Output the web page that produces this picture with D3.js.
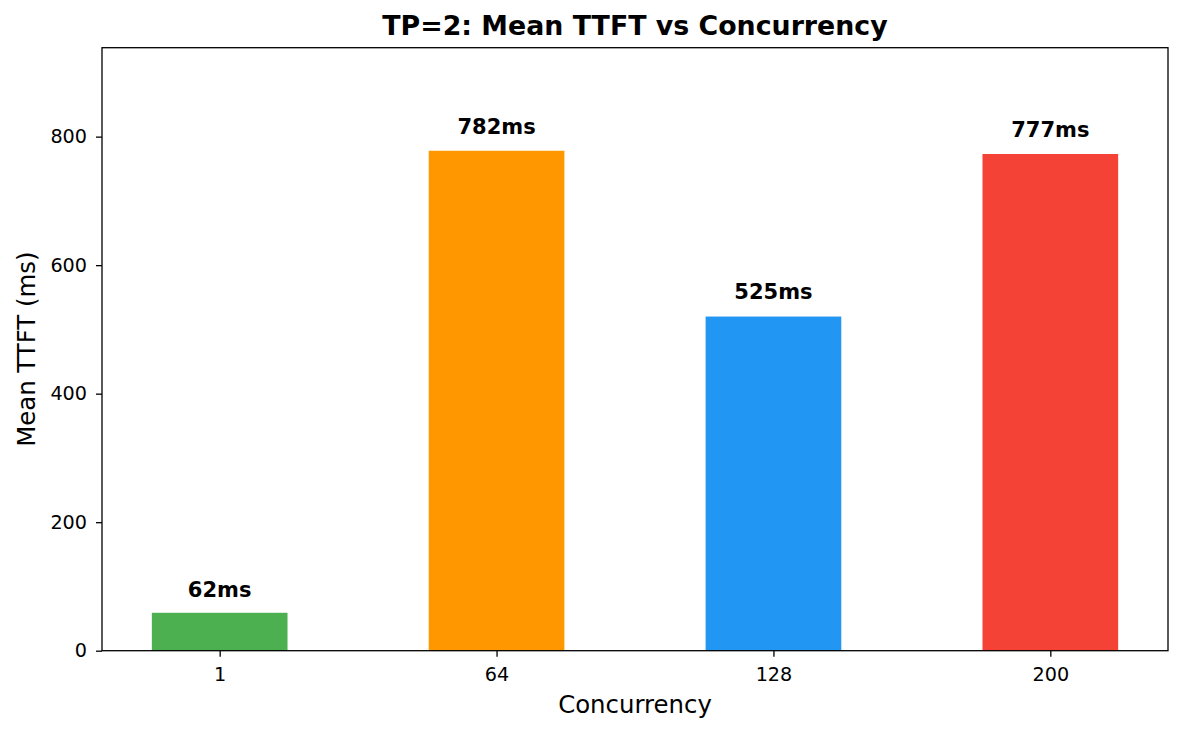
<!DOCTYPE html>
<html>
<head>
<meta charset="utf-8">
<script src="https://cdn.jsdelivr.net/npm/d3@7"></script>
<style>
  body { margin: 0; background: #fff; }
  text { font-family: "DejaVu Sans", sans-serif; }
</style>
</head>
<body>
<svg width="1183" height="735"></svg>
<script>
// chart values
const concurrency = ["1", "64", "128", "200"];
// bar heights
const meanTtft = [59, 778, 520, 773];
// numbers printed above the bars
const labelValues = [62, 782, 525, 777];
const barColors = ["#4CAF50", "#FF9800", "#2196F3", "#F44336"];
const yTicks = [0, 200, 400, 600, 800];

const svg = d3.select('svg');
const margin = { top: 47.7, right: 15, bottom: 84.3, left: 102 };
const width = +svg.attr('width');
const height = +svg.attr('height');
const innerWidth = width - margin.left - margin.right;
const innerHeight = height - margin.top - margin.bottom;

// matplotlib-like x limits: bars of width 0.5 plus 5% margins
const xScale = d3.scaleLinear()
    .domain([-0.425, concurrency.length - 1 + 0.425])
    .range([0, innerWidth]);

const yScale = d3.scaleLinear()
    .domain([0, d3.max(labelValues) * 1.2])
    .range([innerHeight, 0]);

const g = svg.append('g')
    .attr('transform', `translate(${margin.left}, ${margin.top})`);

// bars
g.selectAll('rect.bar')
    .data(meanTtft)
    .enter()
    .append('rect')
    .attr('class', 'bar')
    .attr('x', (d, i) => xScale(i - 0.245))
    .attr('width', (d, i) => xScale(i + 0.245) - xScale(i - 0.245))
    .attr('y', d => yScale(d))
    .attr('height', d => innerHeight - yScale(d))
    .attr('fill', (d, i) => barColors[i]);

// value labels
g.selectAll('text.value')
    .data(labelValues)
    .enter()
    .append('text')
    .attr('class', 'value')
    .attr('x', (d, i) => xScale(i))
    .attr('y', d => yScale(d) - 14)
    .attr('text-anchor', 'middle')
    .style('font-size', '21px')
    .style('font-weight', 'bold')
    .text(d => d + 'ms');

// axes
const yAxis = g.append('g')
    .call(d3.axisLeft(yScale).tickValues(yTicks).tickSize(6).tickPadding(9));
const xAxis = g.append('g')
    .attr('transform', `translate(0, ${innerHeight})`)
    .call(d3.axisBottom(xScale)
        .tickValues(concurrency.map((c, i) => i))
        .tickFormat(i => concurrency[i])
        .tickSize(6).tickPadding(11));

[xAxis, yAxis].forEach(ax => {
    ax.select('.domain').remove();
    ax.selectAll('line').attr('stroke', '#000').attr('stroke-width', 1.3);
    ax.selectAll('text').style('font-size', '19.2px').attr('fill', '#000')
        .style('font-family', '"DejaVu Sans", sans-serif');
});

// frame
g.append('rect')
    .attr('width', innerWidth)
    .attr('height', innerHeight)
    .attr('fill', 'none')
    .attr('stroke', '#000')
    .attr('stroke-width', 1.3);

// axis titles
g.append('text')
    .attr('x', innerWidth / 2)
    .attr('y', innerHeight + 62)
    .attr('text-anchor', 'middle')
    .style('font-size', '24.4px')
    .text('Concurrency');

g.append('text')
    .attr('transform', `translate(${-67}, ${innerHeight / 2}) rotate(-90)`)
    .attr('text-anchor', 'middle')
    .style('font-size', '24.4px')
    .text('Mean TTFT (ms)');

// title
g.append('text')
    .attr('x', innerWidth / 2)
    .attr('y', -12.5)
    .attr('text-anchor', 'middle')
    .style('font-size', '26.8px')
    .style('font-weight', 'bold')
    .text('TP=2: Mean TTFT vs Concurrency');
</script>
</body>
</html>
